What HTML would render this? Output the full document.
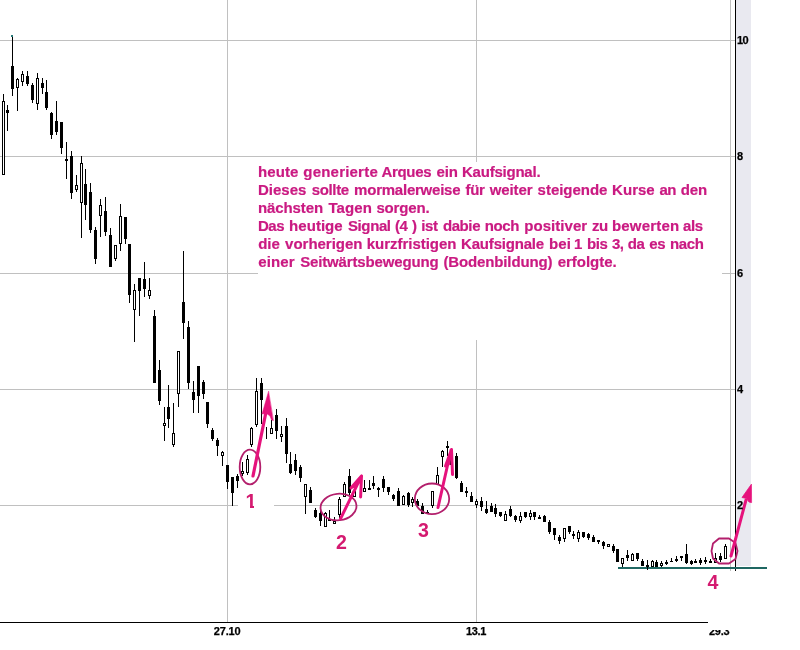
<!DOCTYPE html>
<html lang="de"><head><meta charset="utf-8"><title>Arques Chart</title>
<style>
html,body{margin:0;padding:0;background:#fff;}
body{width:800px;height:650px;position:relative;overflow:hidden;font-family:"Liberation Sans",sans-serif;}
#chart{position:absolute;left:0;top:0;width:800px;height:650px;}
.ax{position:absolute;font-weight:bold;font-size:11px;line-height:11px;color:#000;white-space:nowrap;-webkit-text-stroke:0.25px #000;}
.num{position:absolute;font-weight:bold;font-size:19.6px;line-height:20px;color:#d41a70;white-space:nowrap;}
#note{position:absolute;left:258px;top:163px;width:460px;height:108px;font-weight:bold;font-size:15px;line-height:18px;color:#ca1a82;white-space:nowrap;-webkit-text-stroke:0.2px #ca1a82;}
.ln{position:absolute;left:0;width:460px;height:18px;}
.ln span{position:absolute;top:0;}
.wh{position:absolute;background:#fff;}
#clip{position:absolute;left:707px;top:630px;width:30px;height:8px;overflow:hidden;}
</style></head><body>
<div id="chart">
<svg width="800" height="650" viewBox="0 0 800 650" shape-rendering="crispEdges">
<rect width="800" height="650" fill="#fff"/>
<rect x="736" y="0" width="15" height="566" fill="#e9e9f0"/>
<rect x="0" y="40" width="735" height="1" fill="#c0c0c0"/>
<rect x="0" y="156" width="735" height="1" fill="#c0c0c0"/>
<rect x="0" y="273" width="735" height="1" fill="#c0c0c0"/>
<rect x="0" y="389" width="735" height="1" fill="#c0c0c0"/>
<rect x="0" y="505" width="735" height="1" fill="#c0c0c0"/>
<rect x="227" y="0" width="1" height="622" fill="#c0c0c0"/>
<rect x="476" y="0" width="1" height="622" fill="#c0c0c0"/>
<rect x="730" y="0" width="1" height="571" fill="#c0c0c0"/>
<rect x="258" y="162" width="464" height="178" fill="#fff"/>
<rect x="238" y="490" width="36" height="24" fill="#fff"/>
<rect x="735" y="0" width="1" height="571" fill="#000"/>
<rect x="0" y="622" width="708" height="1" fill="#000"/>
<rect x="618" y="567" width="149" height="2" fill="#1f6762"/>
<path d="M3 94h1v81h-1zM7 105h1v26h-1zM12 37h1v59h-1zM17 78h1v33h-1zM22 71h1v15h-1zM27 71h1v15h-1zM32 83h1v20h-1zM37 73h1v37h-1zM42 78h1v16h-1zM46 80h1v30h-1zM51 112h1v27h-1zM56 101h1v34h-1zM61 122h1v32h-1zM66 142h1v37h-1zM71 151h1v48h-1zM76 175h1v17h-1zM81 156h1v82h-1zM85 169h1v51h-1zM90 183h1v50h-1zM95 227h1v37h-1zM100 199h1v38h-1zM105 197h1v39h-1zM110 228h1v39h-1zM115 245h1v16h-1zM120 204h1v47h-1zM125 217h1v27h-1zM129 244h1v59h-1zM134 284h1v58h-1zM139 278h1v38h-1zM144 262h1v35h-1zM149 278h1v21h-1zM154 310h1v73h-1zM159 360h1v45h-1zM164 407h1v34h-1zM168 385h1v43h-1zM173 403h1v44h-1zM178 351h1v56h-1zM183 251h1v88h-1zM188 321h1v68h-1zM193 381h1v32h-1zM198 366h1v47h-1zM203 380h1v19h-1zM207 402h1v26h-1zM212 428h1v13h-1zM217 438h1v18h-1zM222 451h1v15h-1zM227 465h1v24h-1zM232 477h1v29h-1zM237 474h1v14h-1zM242 462h1v14h-1zM247 455h1v20h-1zM251 427h1v20h-1zM256 378h1v49h-1zM261 378h1v46h-1zM266 427h1v12h-1zM271 420h1v14h-1zM276 409h1v30h-1zM281 426h1v16h-1zM286 418h1v45h-1zM290 452h1v22h-1zM295 454h1v21h-1zM300 465h1v17h-1zM305 484h1v30h-1zM310 487h1v16h-1zM315 508h1v10h-1zM320 508h1v18h-1zM325 512h1v15h-1zM329 510h1v11h-1zM334 517h1v7h-1zM339 497h1v21h-1zM344 482h1v15h-1zM349 469h1v26h-1zM354 488h1v9h-1zM364 480h1v12h-1zM369 480h1v10h-1zM373 476h1v13h-1zM378 487h1v10h-1zM383 476h1v16h-1zM388 487h1v8h-1zM393 494h1v7h-1zM398 488h1v18h-1zM403 495h1v10h-1zM408 492h1v15h-1zM412 497h1v10h-1zM417 499h1v9h-1zM422 503h1v11h-1zM427 510h1v4h-1zM432 491h1v17h-1zM437 467h1v18h-1zM442 450h1v17h-1zM447 441h1v15h-1zM451 449h1v21h-1zM456 453h1v26h-1zM461 481h1v11h-1zM466 487h1v10h-1zM471 492h1v10h-1zM476 499h1v9h-1zM481 497h1v14h-1zM486 501h1v13h-1zM491 503h1v9h-1zM495 504h1v13h-1zM500 512h1v5h-1zM505 511h1v10h-1zM510 506h1v11h-1zM515 515h1v7h-1zM520 512h1v11h-1zM525 512h1v6h-1zM530 510h1v10h-1zM534 512h1v8h-1zM539 515h1v4h-1zM544 515h1v7h-1zM549 520h1v14h-1zM554 528h1v12h-1zM559 535h1v9h-1zM564 528h1v14h-1zM569 526h1v8h-1zM573 531h1v8h-1zM578 530h1v12h-1zM583 532h1v6h-1zM588 533h1v7h-1zM593 535h1v7h-1zM598 540h1v4h-1zM603 541h1v8h-1zM608 544h1v3h-1zM613 544h1v9h-1zM617 549h1v13h-1zM622 558h1v9h-1zM627 550h1v11h-1zM632 553h1v8h-1zM637 553h1v8h-1zM642 559h1v7h-1zM647 560h1v10h-1zM652 560h1v7h-1zM656 560h1v7h-1zM661 561h1v6h-1zM666 560h1v5h-1zM671 558h1v4h-1zM676 556h1v6h-1zM681 556h1v5h-1zM686 544h1v20h-1zM691 560h1v5h-1zM695 559h1v4h-1zM700 558h1v7h-1zM705 557h1v7h-1zM710 559h1v4h-1zM715 553h1v10h-1zM720 553h1v9h-1zM725 544h1v15h-1zM2 101h3v74h-3zM6 110h3v3h-3zM11 66h3v23h-3zM16 79h3v9h-3zM21 74h3v8h-3zM26 76h3v8h-3zM31 85h3v15h-3zM36 78h3v26h-3zM41 83h3v5h-3zM45 92h3v16h-3zM50 113h3v22h-3zM55 121h3v11h-3zM60 122h3v26h-3zM65 159h3v2h-3zM70 156h3v37h-3zM75 185h3v5h-3zM80 163h3v40h-3zM84 184h3v21h-3zM89 192h3v38h-3zM94 230h3v29h-3zM99 205h3v11h-3zM104 211h3v21h-3zM109 235h3v32h-3zM114 245h3v14h-3zM119 216h3v28h-3zM124 217h3v22h-3zM128 244h3v51h-3zM133 290h3v20h-3zM138 278h3v13h-3zM143 279h3v10h-3zM148 290h3v6h-3zM153 316h3v67h-3zM158 370h3v31h-3zM163 423h3v3h-3zM167 407h3v12h-3zM172 433h3v12h-3zM177 351h3v43h-3zM182 302h3v21h-3zM187 327h3v56h-3zM192 392h3v8h-3zM197 366h3v30h-3zM202 382h3v12h-3zM206 402h3v22h-3zM211 430h3v9h-3zM216 440h3v6h-3zM221 452h3v4h-3zM226 465h3v17h-3zM231 477h3v16h-3zM236 476h3v5h-3zM241 471h3v3h-3zM246 459h3v14h-3zM250 428h3v17h-3zM255 391h3v34h-3zM260 383h3v17h-3zM270 428h3v6h-3zM275 415h3v16h-3zM280 434h3v3h-3zM285 426h3v28h-3zM289 464h3v9h-3zM294 460h3v11h-3zM299 467h3v11h-3zM304 484h3v13h-3zM309 490h3v13h-3zM314 510h3v7h-3zM319 513h3v8h-3zM324 513h3v14h-3zM328 519h3v2h-3zM333 521h3v3h-3zM338 499h3v16h-3zM343 484h3v13h-3zM348 476h3v17h-3zM353 491h3v6h-3zM363 488h3v4h-3zM368 488h3v2h-3zM372 483h3v3h-3zM377 488h3v2h-3zM382 479h3v9h-3zM387 487h3v5h-3zM392 495h3v4h-3zM397 491h3v15h-3zM402 496h3v9h-3zM407 493h3v12h-3zM411 499h3v4h-3zM416 501h3v5h-3zM421 506h3v8h-3zM426 512h3v2h-3zM431 491h3v15h-3zM436 475h3v10h-3zM441 451h3v6h-3zM446 446h3v2h-3zM450 452h3v13h-3zM455 456h3v22h-3zM460 483h3v9h-3zM465 491h3v2h-3zM470 496h3v6h-3zM475 501h3v4h-3zM480 501h3v6h-3zM485 509h3v4h-3zM490 506h3v6h-3zM494 508h3v6h-3zM499 512h3v4h-3zM504 514h3v7h-3zM509 509h3v7h-3zM514 516h3v4h-3zM519 516h3v5h-3zM524 512h3v5h-3zM529 513h3v4h-3zM533 512h3v5h-3zM538 517h3v2h-3zM543 516h3v6h-3zM548 522h3v10h-3zM553 528h3v7h-3zM558 537h3v4h-3zM563 528h3v11h-3zM568 526h3v6h-3zM572 534h3v2h-3zM577 532h3v7h-3zM582 532h3v5h-3zM587 534h3v4h-3zM592 537h3v5h-3zM597 540h3v2h-3zM602 542h3v4h-3zM607 544h3v3h-3zM612 546h3v5h-3zM616 549h3v13h-3zM621 558h3v6h-3zM626 555h3v3h-3zM631 554h3v7h-3zM636 553h3v6h-3zM641 561h3v5h-3zM646 565h3v2h-3zM651 561h3v6h-3zM655 562h3v5h-3zM660 563h3v3h-3zM665 562h3v2h-3zM670 561h3v1h-3zM675 559h3v2h-3zM680 556h3v2h-3zM685 554h3v9h-3zM690 561h3v3h-3zM694 561h3v2h-3zM699 560h3v3h-3zM704 560h3v2h-3zM709 561h3v2h-3zM714 558h3v5h-3zM719 556h3v4h-3zM724 546h3v13h-3z" fill="#000"/>
<path d="M3 102h1v72h-1zM17 80h1v7h-1zM22 75h1v6h-1zM37 79h1v24h-1zM76 186h1v3h-1zM81 164h1v38h-1zM100 206h1v9h-1zM115 246h1v12h-1zM120 217h1v26h-1zM134 291h1v18h-1zM149 291h1v4h-1zM164 424h1v1h-1zM173 434h1v10h-1zM178 352h1v41h-1zM222 453h1v2h-1zM242 472h1v1h-1zM247 460h1v12h-1zM251 429h1v15h-1zM256 392h1v32h-1zM271 429h1v4h-1zM281 435h1v1h-1zM305 485h1v11h-1zM325 514h1v12h-1zM334 522h1v1h-1zM339 500h1v14h-1zM344 485h1v11h-1zM354 492h1v4h-1zM364 489h1v2h-1zM403 497h1v7h-1zM412 500h1v2h-1zM432 492h1v13h-1zM437 476h1v8h-1zM442 452h1v4h-1zM476 502h1v2h-1zM505 515h1v5h-1zM520 517h1v3h-1zM530 514h1v2h-1zM564 529h1v9h-1zM578 533h1v5h-1zM608 545h1v1h-1zM622 559h1v4h-1zM632 555h1v5h-1zM652 562h1v4h-1zM661 564h1v1h-1zM715 559h1v3h-1zM725 547h1v11h-1z" fill="#fff"/>
<rect x="11" y="35" width="2" height="2" fill="#2a7a78"/>
</svg>
<svg width="800" height="650" viewBox="0 0 800 650" style="position:absolute;left:0;top:0">
<g fill="none" stroke="#b31f6c" stroke-width="1.8">
<ellipse cx="250" cy="467" rx="10.3" ry="17.3"/>
<ellipse cx="338.5" cy="507" rx="18" ry="13.3" transform="rotate(-6 338.5 507)"/>
<ellipse cx="432" cy="498.8" rx="17.2" ry="15.3"/>
<path d="M719 538.5h10l6.5 4.5 2 8-2 8-6.5 4.5h-10l-6-5-1.5-7.5 1.5-7.5z" stroke-linejoin="round"/>
</g>
<g fill="#e6127c" stroke="#e6127c" stroke-linecap="round" stroke-linejoin="round">
<path d="M253 476L266 412" stroke-width="3.2" fill="none"/>
<path d="M268.5 391.5L262 414L266.5 413.5L270 416L271.5 420L273.2 420.5Z" stroke-width="0.5"/>
<path d="M340.6 518.5L361.5 476M351 488L361.5 476L360.6 497" stroke-width="3" fill="none"/>
<path d="M361.5 476L351.5 488L356 487Z" stroke-width="1"/>
<path d="M438 507.5L451 450M445.5 466L451.5 449.5L452.5 474.5" stroke-width="3" fill="none"/>
<path d="M451.5 449.5L445.5 466L449 465Z" stroke-width="1"/>
<path d="M731 556L746 500" stroke-width="3" fill="none"/>
<path d="M751.2 484.5L742 497.5L746.5 498.5L749 502L751.2 502.5Z" stroke-width="0.8"/>
</g>
</svg>
</div>
<div class="ax" style="left:737px;top:35px;letter-spacing:-0.5px">10</div>
<div class="ax" style="left:737px;top:151px">8</div>
<div class="ax" style="left:737px;top:268px">6</div>
<div class="ax" style="left:737px;top:384px">4</div>
<div class="ax" style="left:737px;top:500px">2</div>
<div class="ax" style="left:213.8px;top:626px;letter-spacing:-0.2px">27.10</div>
<div class="ax" style="left:466px;top:626px;letter-spacing:-0.35px">13.1</div>
<div id="clip"><div class="ax" style="left:2px;top:-4px;letter-spacing:-0.3px">29.3</div></div>
<div class="num" style="left:245.5px;top:490.5px">1</div><div class="wh" style="left:244px;top:504px;width:6px;height:6px"></div><div class="wh" style="left:253.5px;top:504px;width:6px;height:6px"></div>
<div class="num" style="left:336px;top:532px">2</div>
<div class="num" style="left:418px;top:520px">3</div>
<div class="num" style="left:707.5px;top:572px">4</div>
<div id="note">
<div class="ln" style="top:0px"><span style="left:0px;letter-spacing:0.08px">heute</span> <span style="left:45.3px;letter-spacing:0.21px">generierte</span> <span style="left:123.6px;letter-spacing:-0.36px">Arques</span> <span style="left:178.4px;letter-spacing:-0.02px">ein</span> <span style="left:204px;letter-spacing:-0.23px">Kaufsignal.</span></div>
<div class="ln" style="top:18px"><span style="left:0px">Dieses</span> <span style="left:53.7px;letter-spacing:-0.34px">sollte</span> <span style="left:96.1px;letter-spacing:-0.23px">mormalerweise</span> <span style="left:207.6px;letter-spacing:-0.38px">für</span> <span style="left:231.8px;letter-spacing:-0.12px">weiter</span> <span style="left:279.6px;letter-spacing:-0.02px">steigende</span> <span style="left:354.1px;letter-spacing:0.02px">Kurse</span> <span style="left:401.4px;letter-spacing:-0.4px">an</span> <span style="left:422.8px;letter-spacing:-0.14px">den</span></div>
<div class="ln" style="top:36px"><span style="left:0px;letter-spacing:-0.11px">nächsten</span> <span style="left:70.4px;letter-spacing:0.09px">Tagen</span> <span style="left:118.4px;letter-spacing:-0.15px">sorgen.</span></div>
<div class="ln" style="top:54px"><span style="left:-0.1px;letter-spacing:-0.4px">Das</span> <span style="left:31.1px;letter-spacing:0.04px">heutige</span> <span style="left:90px;letter-spacing:-0.4px">Signal</span> <span style="left:136.9px;letter-spacing:-0.4px">(4</span> <span style="left:153.9px">)</span> <span style="left:163.2px;letter-spacing:-0.4px">ist</span> <span style="left:184.9px;letter-spacing:-0.4px">dabie</span> <span style="left:226.8px;letter-spacing:-0.4px">noch</span> <span style="left:266.3px;letter-spacing:0.04px">positiver</span> <span style="left:334px;letter-spacing:-0.4px">zu</span> <span style="left:354px;letter-spacing:0.18px">bewerten</span> <span style="left:425px;letter-spacing:-0.4px">als</span></div>
<div class="ln" style="top:72px"><span style="left:0.3px;letter-spacing:-0.12px">die</span> <span style="left:27.1px;letter-spacing:-0.02px">vorherigen</span> <span style="left:108.7px;letter-spacing:-0.02px">kurzfristigen</span> <span style="left:203.1px;letter-spacing:-0.2px">Kaufsignale</span> <span style="left:290.9px;letter-spacing:0.15px">bei</span> <span style="left:316px">1</span> <span style="left:329px;letter-spacing:-0.4px">bis</span> <span style="left:353.9px;letter-spacing:-0.4px">3,</span> <span style="left:369.7px;letter-spacing:-0.4px">da</span> <span style="left:391.3px;letter-spacing:-0.4px">es</span> <span style="left:412.1px;letter-spacing:-0.4px">nach</span></div>
<div class="ln" style="top:90px"><span style="left:0.3px;letter-spacing:0.09px">einer</span> <span style="left:42.2px;letter-spacing:-0.15px">Seitwärtsbewegung</span> <span style="left:185.5px;letter-spacing:-0.14px">(Bodenbildung)</span> <span style="left:299.7px;letter-spacing:-0.02px">erfolgte.</span></div>
</div>
</body></html>
